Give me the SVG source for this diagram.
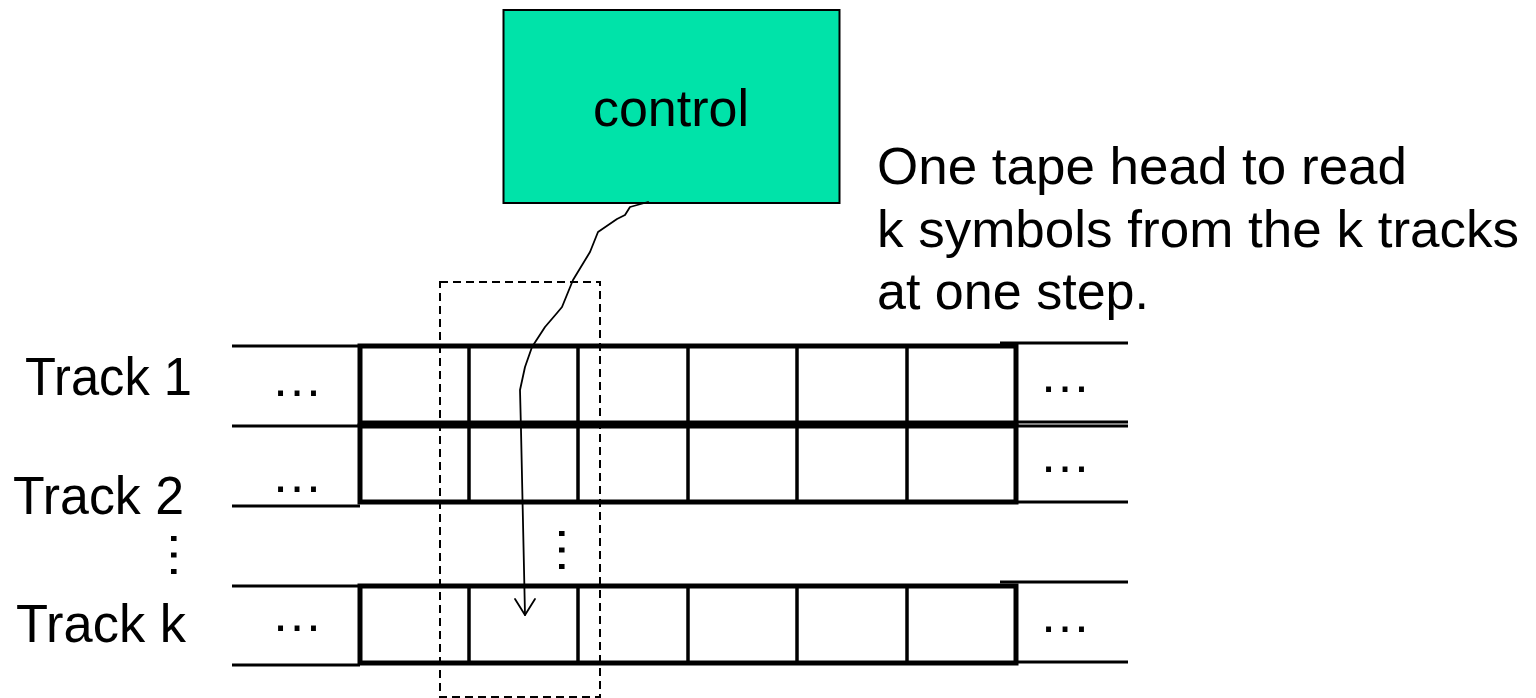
<svg xmlns="http://www.w3.org/2000/svg" width="1536" height="698" viewBox="0 0 1536 698">
<style>
text{font-family:"Liberation Sans",Arial,sans-serif;fill:#000}
.lbl{font-size:53px}
.note{font-size:52px}
.dots{font-size:52px}
.tape{fill:none;stroke:#000;stroke-width:5}
.cell{stroke:#000;stroke-width:3.5}
.thin{stroke:#000;stroke-width:3}
</style>
<rect width="1536" height="698" fill="#fff"/>
<g id="control">
<rect x="503.5" y="10" width="336" height="193" fill="#00E3A9" stroke="#000" stroke-width="2"/>
<text x="671" y="126" class="note" text-anchor="middle">control</text>
</g>
<g id="note">
<text x="877" y="184" class="note" textLength="530" lengthAdjust="spacingAndGlyphs">One tape head to read</text>
<text x="877" y="247" class="note" textLength="642" lengthAdjust="spacingAndGlyphs">k symbols from the k tracks</text>
<text x="877" y="309" class="note" textLength="272" lengthAdjust="spacingAndGlyphs">at one step.</text>
</g>
<g id="head">
<rect x="440" y="282" width="160" height="415" fill="none" stroke="#000" stroke-width="2" stroke-dasharray="8 5"/>
</g>
<g id="track1">
<text x="25" y="395" class="lbl" textLength="167" lengthAdjust="spacingAndGlyphs">Track 1</text>
<line x1="232" y1="346" x2="360" y2="346" class="thin"/>
<line x1="232" y1="426" x2="360" y2="426" class="thin"/>
<line x1="1000" y1="343" x2="1128" y2="343" class="thin"/>
<line x1="1016" y1="422" x2="1128" y2="422" class="thin"/>
<rect x="360" y="346" width="656" height="77" class="tape"/>
<line x1="469" y1="346" x2="469" y2="423" class="cell"/>
<line x1="578" y1="346" x2="578" y2="423" class="cell"/>
<line x1="688" y1="346" x2="688" y2="423" class="cell"/>
<line x1="797" y1="346" x2="797" y2="423" class="cell"/>
<line x1="907" y1="346" x2="907" y2="423" class="cell"/>
<text x="271" y="396" class="dots">…</text>
<text x="1039" y="392" class="dots">…</text>
</g>
<g id="track2">
<text x="13" y="514" class="lbl" textLength="171" lengthAdjust="spacingAndGlyphs">Track 2</text>
<line x1="232" y1="506" x2="360" y2="506" class="thin"/>
<line x1="1016" y1="426" x2="1128" y2="426" class="thin"/>
<line x1="1016" y1="502" x2="1128" y2="502" class="thin"/>
<rect x="360" y="426" width="656" height="76" class="tape"/>
<line x1="469" y1="426" x2="469" y2="502" class="cell"/>
<line x1="578" y1="426" x2="578" y2="502" class="cell"/>
<line x1="688" y1="426" x2="688" y2="502" class="cell"/>
<line x1="797" y1="426" x2="797" y2="502" class="cell"/>
<line x1="907" y1="426" x2="907" y2="502" class="cell"/>
<text x="271" y="492" class="dots">…</text>
<text x="1039" y="472" class="dots">…</text>
</g>
<g id="vdots">
<text class="dots" transform="translate(170.5,529) rotate(90)">…</text>
<text class="dots" transform="translate(558.5,524) rotate(90)">…</text>
</g>
<g id="trackk">
<text x="16" y="642" class="lbl" textLength="170" lengthAdjust="spacingAndGlyphs">Track k</text>
<line x1="232" y1="586" x2="360" y2="586" class="thin"/>
<line x1="232" y1="665" x2="360" y2="665" class="thin"/>
<line x1="1000" y1="582" x2="1128" y2="582" class="thin"/>
<line x1="1016" y1="662" x2="1128" y2="662" class="thin"/>
<rect x="360" y="586" width="656" height="77" class="tape"/>
<line x1="469" y1="586" x2="469" y2="663" class="cell"/>
<line x1="578" y1="586" x2="578" y2="663" class="cell"/>
<line x1="688" y1="586" x2="688" y2="663" class="cell"/>
<line x1="797" y1="586" x2="797" y2="663" class="cell"/>
<line x1="907" y1="586" x2="907" y2="663" class="cell"/>
<text x="271" y="631" class="dots">…</text>
<text x="1039" y="632" class="dots">…</text>
</g>
<g id="connectors" fill="none" stroke="#000" stroke-width="1.8" stroke-linejoin="round" stroke-linecap="round">
<path d="M648,202 L630,207 L625,215 L617,219 L598,232 L590,252 L573,280 L562,307 L557,313 L545,327 L532,347 L525,367 L520,390 L521,430 L525,615"/>
<polyline points="515,599 525,615 535,599"/>
</g>
</svg>
